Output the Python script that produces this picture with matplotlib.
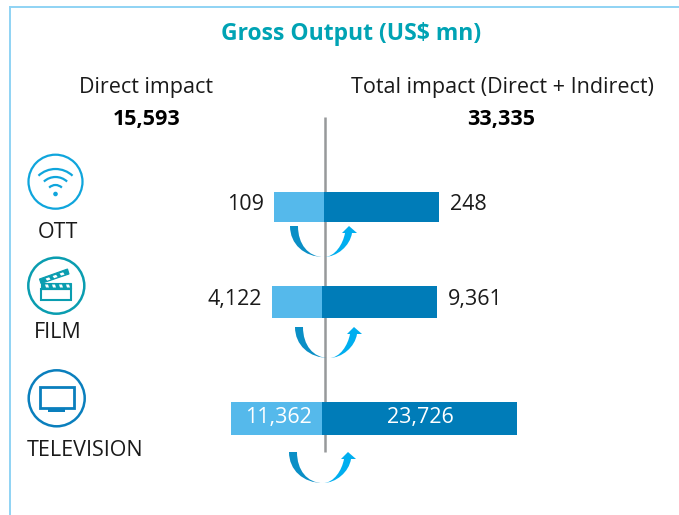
import matplotlib
matplotlib.use('Agg')
import matplotlib.pyplot as plt
import matplotlib.patches as patches
from matplotlib.path import Path

plt.rcParams['font.family'] = ['Open Sans', 'DejaVu Sans']

categories = ['OTT', 'FILM', 'TELEVISION']
direct_labels = ['109', '4,122', '11,362']
total_labels = ['248', '9,361', '23,726']
# the infographic's bars are not to scale, so lengths are read off in pixels
direct_lengths = [50, 50, 91]
total_lengths = [115, 115, 195]

LIGHT = '#55b9eb'
DARK = '#007cb8'
TEAL = '#00a3b4'
TEXT = '#1a1a1a'

fig = plt.figure(figsize=(6.79, 5.15), dpi=100)
ax = fig.add_axes([0, 0, 1, 1])
ax.set_xlim(0, 679)
ax.set_ylim(515, 0)
ax.axis('off')


def draw_arrow(x, y, w=1.0):
    # x, y = top left corner of the left arm
    P = lambda a, b: (x + a * w, y + b)
    left = Path([P(0, 0), P(0, 18), P(14, 31), P(34, 31), P(18, 31), P(8, 18), P(8, 0), P(0, 0)],
                [1, 4, 4, 4, 4, 4, 4, 2])
    right = Path([P(34, 31), P(47, 31), P(60, 20), P(62, 7), P(67, 7), P(59, 0), P(52, 7), P(55, 7),
                  P(53, 18), P(45, 31), P(34, 31)],
                 [1, 4, 4, 4, 2, 2, 2, 2, 4, 4, 4])
    ax.add_patch(patches.PathPatch(left, fc='#0a8fc6', ec='none', zorder=4))
    ax.add_patch(patches.PathPatch(right, fc='#00aeef', ec='none', zorder=4))


def draw_wifi(cx, cy, r):
    c = '#0fa5dc'
    ax.add_patch(patches.Circle((cx, cy), r, fc='none', ec=c, lw=1.6))
    for rad, half in [(25, 43), (17, 43), (9, 45)]:
        ax.add_patch(patches.Arc((cx, 194), 2 * rad, 2 * rad, theta1=270 - half, theta2=270 + half,
                                 ec=c, lw=1.6))
    ax.add_patch(patches.Circle((cx, 194), 2.3, fc=c, ec='none'))


def draw_clapper(cx, cy, r):
    c = '#0a9db0'
    ax.add_patch(patches.Circle((cx, cy), r, fc='none', ec=c, lw=1.8))
    ax.add_patch(patches.Rectangle((41, 289), 30, 11, fc='white', ec=c, lw=1.5))
    ax.add_patch(patches.Rectangle((41, 283), 30, 6, fc=c, ec=c, lw=0.8))
    for sx in [45, 52, 59, 66]:
        ax.add_patch(patches.Polygon([[sx, 284.5], [sx + 3, 284.5], [sx + 4, 287.5], [sx + 1, 287.5]],
                                     fc='white', ec='none'))
    ax.add_patch(patches.Polygon([[39.5, 279], [67.5, 269], [69, 274], [41, 283.5]], fc=c, ec=c, lw=0.8))
    for k in [0.2, 0.45, 0.7]:
        bx, by = 40 + 28 * k, 280.5 - 10 * k
        ax.add_patch(patches.Polygon([[bx, by], [bx + 3.5, by - 1.2], [bx + 5, by + 1], [bx + 1.5, by + 2.2]],
                                     fc='white', ec='none'))


def draw_tv(cx, cy, r):
    c = '#0a7fbd'
    ax.add_patch(patches.Circle((cx, cy), r, fc='none', ec=c, lw=1.8))
    ax.add_patch(patches.Rectangle((39.5, 387), 34.5, 21, fc='none', ec=c, lw=2))
    ax.add_patch(patches.Rectangle((48, 408), 17, 4, fc=c, ec='none'))


# frame
ax.plot([10, 10], [7, 515], color='#8fd3f4', lw=1.4)
ax.plot([10, 679], [7, 7], color='#8fd3f4', lw=1.4)

# centre line
ax.plot([325, 325], [117, 452], color='#97999b', lw=1.8, zorder=1, solid_capstyle='butt')

# header
ax.text(351, 34, 'Gross Output (US$ mn)', color=TEAL, fontsize=16.5, fontweight='bold', ha='center', va='center')
ax.text(146, 87, 'Direct impact', color=TEXT, fontsize=15.5, ha='center', va='center')
ax.text(502, 87, 'Total impact (Direct + Indirect)', color=TEXT, fontsize=15.5, ha='center', va='center')
ax.text(147, 119, '15,593', color='black', fontsize=15.5, fontweight='bold', ha='center', va='center')
ax.text(501, 119, '33,335', color='black', fontsize=15.5, fontweight='bold', ha='center', va='center')

# bars
bar_y = [207, 302, 418.5]
bar_h = [30, 32, 33]
split = [324, 322, 322]
ax.barh(bar_y, direct_lengths, height=bar_h, left=[s - d for s, d in zip(split, direct_lengths)],
        color=LIGHT, zorder=2)
ax.barh(bar_y, total_lengths, height=bar_h, left=split, color=DARK, zorder=2)

# value labels, the TV ones sit inside the bars
for i in range(3):
    if i < 2:
        ax.text(split[i] - direct_lengths[i] - 10, bar_y[i] - 2, direct_labels[i], color=TEXT, fontsize=15.5,
                ha='right', va='center')
        ax.text(split[i] + total_lengths[i] + 11, bar_y[i] - 2, total_labels[i], color=TEXT, fontsize=15.5,
                ha='left', va='center')
    else:
        ax.text(278, bar_y[i] - 1, direct_labels[i], color='white', fontsize=15.5, ha='center', va='center')
        ax.text(420, bar_y[i] - 1, total_labels[i], color='white', fontsize=15.5, ha='center', va='center')

draw_arrow(290, 226)
draw_arrow(295, 327)
draw_arrow(289, 452)

# icons and category names
draw_wifi(55.5, 181.7, 27)
draw_clapper(56.3, 285.7, 28)
draw_tv(56.7, 398.3, 28)
ax.text(58, 233, categories[0], color=TEXT, fontsize=15.5, ha='center', va='center')
ax.text(58, 332, categories[1], color=TEXT, fontsize=15.5, ha='center', va='center')
ax.text(85.5, 451, categories[2], color=TEXT, fontsize=15.5, ha='center', va='center')

fig.savefig('out.png', dpi=100)
